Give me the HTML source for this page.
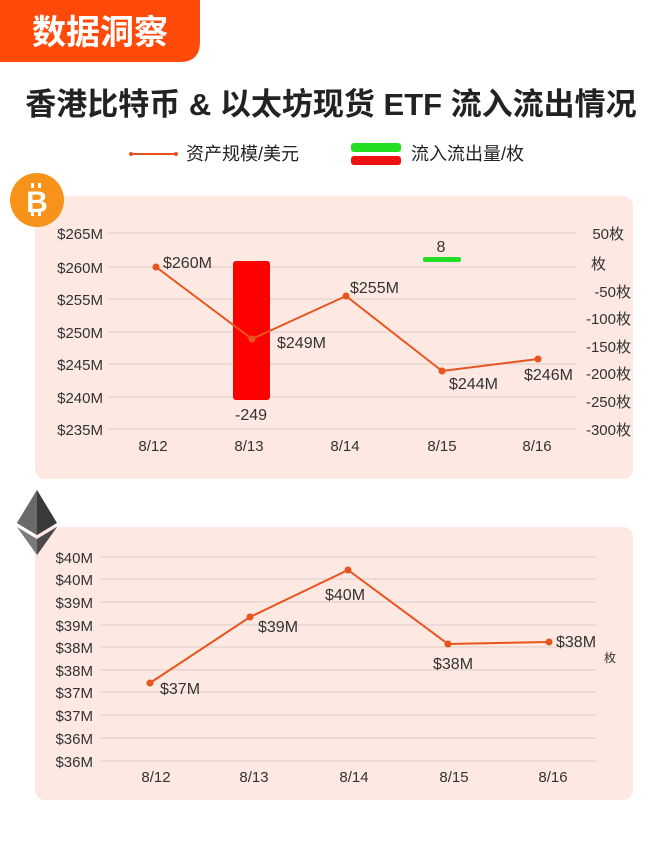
<!DOCTYPE html><html><head><meta charset="utf-8"><style>
body{margin:0;width:662px;height:841px;background:#fff;overflow:hidden;font-family:"Liberation Sans","Noto Sans CJK SC",sans-serif;}
</style></head><body>
<svg width="662" height="841" xmlns="http://www.w3.org/2000/svg" font-family="Liberation Sans, Noto Sans CJK SC, sans-serif">
<path d="M0 0H200V42Q200 62 180 62H0Z" fill="#ff4a0a"/>
<text x="100" y="44" text-anchor="middle" font-size="34" font-weight="bold" fill="#fff">数据洞察</text>
<text x="331" y="115" text-anchor="middle" font-size="31" font-weight="bold" fill="#222">香港比特币 &amp; 以太坊现货 ETF 流入流出情况</text>
<line x1="131" y1="154" x2="176" y2="154" stroke="#e8541e" stroke-width="2"/><circle cx="131" cy="154" r="2" fill="#e8541e"/><circle cx="176" cy="154" r="2" fill="#e8541e"/>
<text x="186" y="160" font-size="18" fill="#222">资产规模/美元</text>
<rect x="351" y="143" width="50" height="9" rx="3" fill="#22dd22"/><rect x="351" y="156" width="50" height="9" rx="3" fill="#ee1111"/>
<text x="411" y="160" font-size="18" fill="#222">流入流出量/枚</text>
<rect x="35" y="196" width="598" height="283" rx="10" fill="#fde8e2"/>
<circle cx="37" cy="200" r="27" fill="#f7931a"/>
<text x="37" y="212" text-anchor="middle" font-size="30" font-weight="bold" fill="#fff">B</text>
<rect x="31" y="183" width="3" height="5" fill="#fff"/><rect x="38" y="183" width="3" height="5" fill="#fff"/>
<rect x="31" y="211" width="3" height="5" fill="#fff"/><rect x="38" y="211" width="3" height="5" fill="#fff"/>
<g stroke="#dccbc6" stroke-width="1">
<line x1="108" y1="233" x2="576" y2="233"/><line x1="108" y1="267" x2="576" y2="267"/><line x1="108" y1="299" x2="576" y2="299"/><line x1="108" y1="332" x2="576" y2="332"/><line x1="108" y1="364" x2="576" y2="364"/><line x1="108" y1="397" x2="576" y2="397"/><line x1="108" y1="429" x2="576" y2="429"/></g>
<g font-size="15" fill="#333" text-anchor="end">
<text x="103" y="239">$265M</text><text x="103" y="273">$260M</text><text x="103" y="305">$255M</text><text x="103" y="338">$250M</text><text x="103" y="370">$245M</text><text x="103" y="403">$240M</text><text x="103" y="435">$235M</text></g>
<g font-size="15" fill="#333" text-anchor="end">
<text x="624" y="239">50枚</text><text x="606" y="269">枚</text><text x="631" y="297">-50枚</text><text x="631" y="324">-100枚</text><text x="631" y="352">-150枚</text><text x="631" y="379">-200枚</text><text x="631" y="407">-250枚</text><text x="631" y="435">-300枚</text></g>
<rect x="233" y="261" width="37" height="139" rx="3" fill="#ff0000"/>
<rect x="423" y="257" width="38" height="5" rx="2" fill="#22dd22"/>
<text x="441" y="252" text-anchor="middle" font-size="16" fill="#333">8</text>
<text x="251" y="420" text-anchor="middle" font-size="16" fill="#333">-249</text>
<polyline points="156,267 252,339 346,296 442,371 538,359" fill="none" stroke="#e8541e" stroke-width="2"/>
<g fill="#e8541e"><circle cx="156" cy="267" r="3.5"/><circle cx="252" cy="339" r="3.5"/><circle cx="346" cy="296" r="3.5"/><circle cx="442" cy="371" r="3.5"/><circle cx="538" cy="359" r="3.5"/></g>
<g font-size="16" fill="#333">
<text x="163" y="268">$260M</text><text x="277" y="348">$249M</text><text x="350" y="293">$255M</text><text x="449" y="389">$244M</text><text x="524" y="380">$246M</text></g>
<g font-size="15" fill="#333" text-anchor="middle">
<text x="153" y="451">8/12</text><text x="249" y="451">8/13</text><text x="345" y="451">8/14</text><text x="442" y="451">8/15</text><text x="537" y="451">8/16</text></g>
<rect x="35" y="527" width="598" height="273" rx="10" fill="#fde8e2"/>
<polygon points="37,490 57,523 37,535 17,523" fill="#3a3a3a"/>
<polygon points="37,490 37,535 17,523" fill="#6a6a6a"/>
<polygon points="17,527 37,539 57,527 37,555" fill="#7a7a7a"/>
<polygon points="37,539 57,527 37,555" fill="#4a4a4a"/>
<g stroke="#dccbc6" stroke-width="1">
<line x1="101" y1="557" x2="596" y2="557"/><line x1="101" y1="579" x2="596" y2="579"/><line x1="101" y1="602" x2="596" y2="602"/><line x1="101" y1="625" x2="596" y2="625"/><line x1="101" y1="647" x2="596" y2="647"/><line x1="101" y1="670" x2="596" y2="670"/><line x1="101" y1="692" x2="596" y2="692"/><line x1="101" y1="715" x2="596" y2="715"/><line x1="101" y1="738" x2="596" y2="738"/><line x1="101" y1="761" x2="596" y2="761"/></g>
<g font-size="15" fill="#333" text-anchor="end">
<text x="93" y="563">$40M</text><text x="93" y="585">$40M</text><text x="93" y="608">$39M</text><text x="93" y="631">$39M</text><text x="93" y="653">$38M</text><text x="93" y="676">$38M</text><text x="93" y="698">$37M</text><text x="93" y="721">$37M</text><text x="93" y="744">$36M</text><text x="93" y="767">$36M</text></g>
<polyline points="150,683 250,617 348,570 448,644 549,642" fill="none" stroke="#e8541e" stroke-width="2"/>
<g fill="#e8541e"><circle cx="150" cy="683" r="3.5"/><circle cx="250" cy="617" r="3.5"/><circle cx="348" cy="570" r="3.5"/><circle cx="448" cy="644" r="3.5"/><circle cx="549" cy="642" r="3.5"/></g>
<g font-size="16" fill="#333">
<text x="160" y="694">$37M</text><text x="258" y="632">$39M</text><text x="325" y="600">$40M</text><text x="433" y="669">$38M</text><text x="556" y="647">$38M</text></g>
<text x="604" y="662" font-size="12" fill="#333">枚</text>
<g font-size="15" fill="#333" text-anchor="middle">
<text x="156" y="782">8/12</text><text x="254" y="782">8/13</text><text x="354" y="782">8/14</text><text x="454" y="782">8/15</text><text x="553" y="782">8/16</text></g>
</svg>
</body></html>
